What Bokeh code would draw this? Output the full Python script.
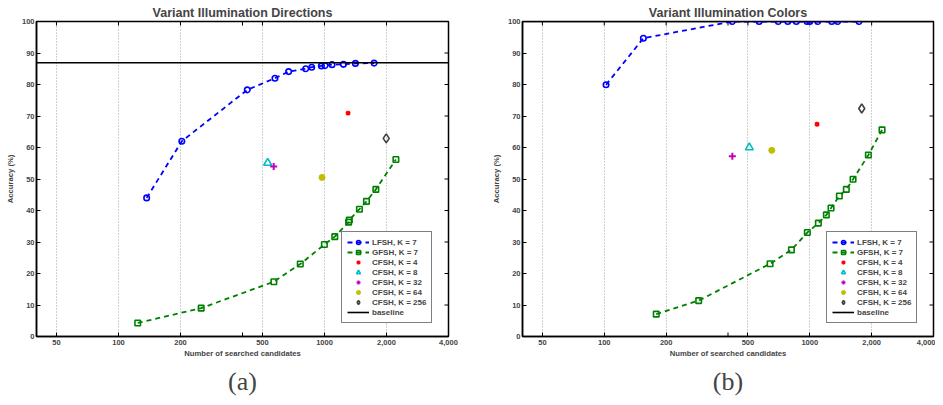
import math
from bokeh.plotting import figure
from bokeh.models import Range1d, FixedTicker, Legend, LegendItem, Title
from bokeh.layouts import row
from bokeh.embed import file_html
from bokeh.resources import INLINE

# ---------------- data ----------------
X_MIN, X_MAX = 40, 4000
Y_MIN, Y_MAX = 0, 100
x_ticks = [50, 100, 200, 500, 1000, 2000, 4000]
x_tick_labels = {50: "50", 100: "100", 200: "200", 500: "500",
                 1000: "1000", 2000: "2,000", 4000: "4,000"}
extra_x_ticks = [400]
grid_ticks = [50, 100, 200, 500, 1000, 2000]
y_ticks = [0, 10, 20, 30, 40, 50, 60, 70, 80, 90, 100]

titles = ["Variant Illumination Directions", "Variant Illumination Colors"]
captions = ["(a)", "(b)"]
series_names = ["LFSH, K = 7", "GFSH, K = 7"]
cfsh_names = ["CFSH, K = 4", "CFSH, K = 8", "CFSH, K = 32", "CFSH, K = 64", "CFSH, K = 256"]

# panel (a)
a_lfsh_x = [137, 203, 422, 575, 670, 811, 867, 966, 1007, 1088, 1236, 1413, 1743]
a_lfsh_y = [44.0, 62.0, 78.3, 82.0, 84.1, 85.0, 85.5, 85.9, 86.0, 86.3, 86.4, 86.7, 86.8]
a_gfsh_x = [124, 252, 568, 763, 999, 1122, 1310, 1320, 1478, 1599, 1776, 2222]
a_gfsh_y = [4.3, 9.0, 17.4, 23.0, 29.2, 31.7, 36.3, 37.0, 40.4, 42.9, 46.7, 56.2]
a_cfsh_x = [1302, 530, 567, 973, 1994]
a_cfsh_y = [70.9, 55.1, 54.0, 50.5, 62.9]
a_baseline = 86.9

# panel (b)
b_lfsh_x = [102, 155, 420, 567, 703, 782, 860, 970, 1000, 1094, 1279, 1368, 1737]
b_lfsh_y = [79.9, 94.7, 100, 100, 100, 100, 100, 100, 100, 100, 100, 100, 100]
b_gfsh_x = [179, 288, 641, 814, 973, 1101, 1204, 1269, 1393, 1506, 1624, 1928, 2247]
b_gfsh_y = [7.1, 11.4, 23.1, 27.5, 33.0, 36.0, 38.6, 40.8, 44.6, 46.7, 49.9, 57.6, 65.6]
b_cfsh_x = [1085, 508, 420, 653, 1790]
b_cfsh_y = [67.4, 60.0, 57.2, 59.1, 72.4]
b_baseline = 100

# ---------------- styles ----------------
LFSH_COLOR = "#0000ff"
GFSH_COLOR = "#008000"
cfsh_styles = [
    dict(marker="x", color="#ff0000", size=5, line_width=2.6, fill=None),
    dict(marker="triangle", color="#00bfbf", size=8, line_width=1.6, fill=None),
    dict(marker="cross", color="#bf00bf", size=7, line_width=2.0, fill=None),
    dict(marker="circle", color="#bfbf00", size=6, line_width=1, fill="#bfbf00"),
    dict(marker="diamond", color="#404040", size=9, line_width=1.6, fill=None),
]
FONT = "Liberation Sans"
TICK_FS = "7.5px"
FIG_H = 400
BORDER_TOP = 21
FRAME_H = 315


def make_panel(idx, lx, ly, gx, gy, cx, cy, base, width, bl, br):
    frame_w = width - bl - br
    p = figure(width=width, height=FIG_H, x_axis_type="log",
               x_range=Range1d(X_MIN, X_MAX), y_range=Range1d(Y_MIN, Y_MAX),
               output_backend="svg", toolbar_location=None,
               min_border_left=bl, min_border_right=br,
               min_border_top=BORDER_TOP, min_border_bottom=FIG_H - BORDER_TOP - FRAME_H,
               outline_line_color="black", outline_line_width=1.5,
               background_fill_color="white", border_fill_color="white")
    # title
    p.title.text = titles[idx]
    p.title.align = "center"
    p.title.text_font = FONT
    p.title.text_font_size = "12.5px"
    p.title.text_font_style = "bold"
    p.title.standoff = 4
    p.title.offset = 0

    # axes
    xa = p.xaxis[0]
    xa.ticker = FixedTicker(ticks=x_ticks)
    xa.major_label_overrides = x_tick_labels
    ya = p.yaxis[0]
    ya.ticker = FixedTicker(ticks=y_ticks)
    for ax in (xa, ya):
        ax.major_tick_in = 4
        ax.major_tick_out = 0
        ax.minor_tick_line_color = None
        ax.axis_line_width = 1.5
        ax.major_tick_line_width = 1
        ax.major_label_text_font = FONT
        ax.major_label_text_font_size = TICK_FS
        ax.major_label_text_font_style = "bold"
        ax.major_label_standoff = 3
        ax.axis_label_text_font = FONT
        ax.axis_label_text_font_size = "7.7px"
        ax.axis_label_text_font_style = "bold"
        ax.axis_label_standoff = 1
    xa.axis_label = "Number of searched candidates"
    ya.axis_label = "Accuracy (%)"
    ya.major_label_standoff = 2
    ya.axis_label_standoff = 4

    # grid
    p.xgrid.ticker = FixedTicker(ticks=grid_ticks)
    p.xgrid.grid_line_color = "#a0a0a0"
    p.xgrid.grid_line_dash = "1 2"
    p.xgrid.grid_line_width = 1
    p.ygrid.grid_line_color = None

    # mirrored inward tick marks on the right and top edges (half clipped by the frame)
    p.scatter([X_MAX] * len(y_ticks), y_ticks, marker="dash", size=8,
              line_color="black", line_width=1)
    top_ticks = x_ticks + extra_x_ticks
    p.scatter(top_ticks, [Y_MAX] * len(top_ticks), marker="dash", size=8,
              angle=math.pi / 2, line_color="black", line_width=1)
    p.scatter(extra_x_ticks, [Y_MIN] * len(extra_x_ticks), marker="dash", size=8,
              angle=math.pi / 2, line_color="black", line_width=1)

    # caption below the axis label
    p.add_layout(Title(text=captions[idx], align="center", text_font="Liberation Serif",
                       text_font_size="26px", text_font_style="normal", standoff=8),
                 "below")

    # series
    l_line = p.line(lx, ly, line_color=LFSH_COLOR, line_width=1.8, line_dash="5 4")
    l_pts = p.scatter(lx, ly, marker="circle", size=5.5, line_color=LFSH_COLOR,
                      fill_color=None, line_width=1.6)
    g_line = p.line(gx, gy, line_color=GFSH_COLOR, line_width=1.8, line_dash="5 4")
    g_pts = p.scatter(gx, gy, marker="square", size=5.5, line_color=GFSH_COLOR,
                      fill_color=None, line_width=1.6)
    items = [LegendItem(label=series_names[0], renderers=[l_line, l_pts]),
             LegendItem(label=series_names[1], renderers=[g_line, g_pts])]
    for k, st in enumerate(cfsh_styles):
        r = p.scatter([cx[k]], [cy[k]], marker=st["marker"], size=st["size"],
                      line_color=st["color"], fill_color=st["fill"], line_width=st["line_width"])
        items.append(LegendItem(label=cfsh_names[k], renderers=[r]))
    b = p.line([X_MIN, X_MAX], [base, base], line_color="black", line_width=1.6)
    items.append(LegendItem(label="baseline", renderers=[b]))

    leg = Legend(items=items, location=(frame_w - 21 - 86, 13),
                 label_text_font=FONT, label_text_font_size="8px",
                 label_text_font_style="bold", label_height=10, glyph_height=10,
                 glyph_width=22, label_standoff=3, spacing=0, padding=5, margin=0,
                 border_line_color="black", border_line_width=1.3,
                 background_fill_alpha=1.0)
    p.add_layout(leg)
    return p


pa = make_panel(0, a_lfsh_x, a_lfsh_y, a_gfsh_x, a_gfsh_y, a_cfsh_x, a_cfsh_y,
                a_baseline, 478, 36, 30)
pb = make_panel(1, b_lfsh_x, b_lfsh_y, b_gfsh_x, b_gfsh_y, b_cfsh_x, b_cfsh_y,
                b_baseline, 457, 44, 2)

layout = row(pa, pb, spacing=0)
open("out.html", "w").write(file_html(layout, INLINE))
